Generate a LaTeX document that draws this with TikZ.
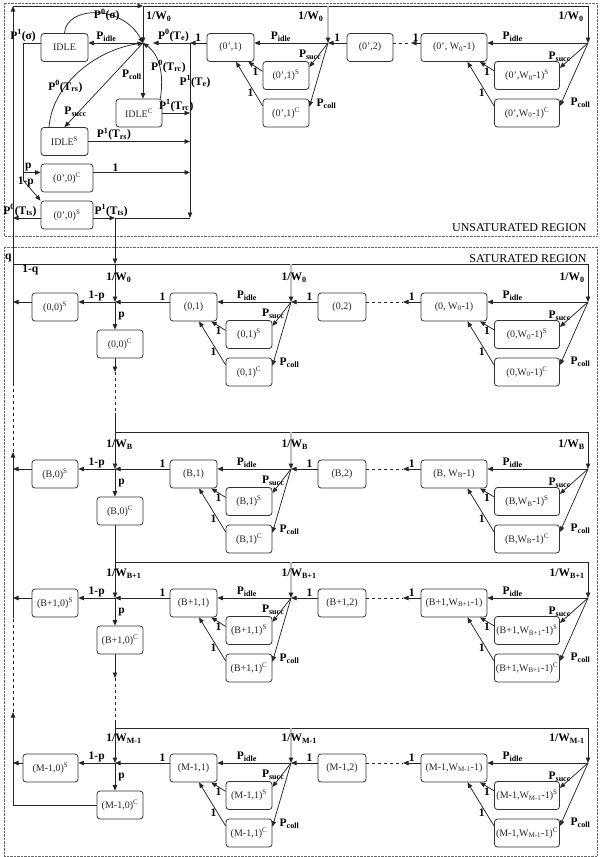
\documentclass[tikz,border=0pt]{standalone}
\usepackage{fontspec}
\setmainfont{Liberation Serif}
\usetikzlibrary{arrows.meta}
\newcommand{\Pidle}{P\textsubscript{idle}}
\newcommand{\Psucc}{P\textsubscript{succ}}
\newcommand{\Pcoll}{P\textsubscript{coll}}

\begin{document}
\begin{tikzpicture}[x=1pt, y=-1pt]
\useasboundingbox (0,0) rectangle (600,857);
% the two regions
\draw[densely dotted, black!60] (4,3) rectangle (597,236);
\draw[densely dotted, black!60] (4,247) rectangle (597,856);
\node (unsat) [anchor=east, font=\fontsize{12}{14}\selectfont] at (590,228) {UNSATURATED REGION};
\node (sat) [anchor=east, font=\fontsize{12}{14}\selectfont] at (590,259) {SATURATED REGION};

% junctions, unsaturated part
\coordinate (Lv) at (13,6);
\coordinate (Ut1) at (143,6);
\coordinate (Ut2) at (328,6);
\coordinate (Ut3) at (588,6);
\coordinate (Uh1) at (143,43);
\coordinate (Uh2) at (328,43);
\coordinate (Uh3) at (588,43);
\coordinate (Ud) at (411,43);
\coordinate (Uj) at (190,43);
\coordinate (Ub) at (190,218);
\coordinate (S0) at (115,218);
\coordinate (Sg) at (23,43);
\coordinate (Sp) at (23,172.5);
\coordinate (Sq) at (23,180);
% junctions, saturated part
\coordinate (Q) at (13,264);
\coordinate (Lw) at (13,385);
\coordinate (Lx) at (13,452);
\coordinate (Ly) at (13,618);
\coordinate (Lz) at (13,712);
\coordinate (At1) at (115,264); \coordinate (At2) at (291,264); \coordinate (At3) at (588,264);
\coordinate (Ah1) at (115,302); \coordinate (Ah2) at (291,302); \coordinate (Ah3) at (588,302);
\coordinate (Ad) at (403,302);  \coordinate (Ae) at (115,372);
\coordinate (Bf) at (115,413);
\coordinate (Bt1) at (115,432); \coordinate (Bt2) at (291,432); \coordinate (Bt3) at (588,432);
\coordinate (Bh1) at (115,469); \coordinate (Bh2) at (291,469); \coordinate (Bh3) at (588,469);
\coordinate (Bd) at (403,469);
\coordinate (Ct1) at (115,562); \coordinate (Ct2) at (291,562); \coordinate (Ct3) at (588,562);
\coordinate (Ch1) at (115,598); \coordinate (Ch2) at (291,598); \coordinate (Ch3) at (588,598);
\coordinate (Cd) at (403,598);  \coordinate (Ce) at (115,678);
\coordinate (Df) at (115,722);
\coordinate (Dt1) at (115,728); \coordinate (Dt2) at (291,728); \coordinate (Dt3) at (588,728);
\coordinate (Dh1) at (115,763); \coordinate (Dh2) at (291,763); \coordinate (Dh3) at (588,763);
\coordinate (Dd) at (403,763);

\begin{scope}[every node/.style={draw=black!80, line width=.8pt, rounded corners=3pt, minimum width=46pt,
    minimum height=28pt, inner sep=1pt, text=black!85, font=\fontsize{10}{12}\selectfont}]
  % unsaturated
  \node (I) at (64.5,47.5) [minimum width=47pt] {IDLE};
  \node (IC) at (139,113) {IDLE\textsuperscript{C}};
  \node (IS) at (64.5,141.5) [minimum width=47pt] {IDLE\textsuperscript{S}};
  \node (U0C) at (67,178) [minimum width=52pt] {(0',0)\textsuperscript{C}};
  \node (U0S) at (67,215) [minimum width=52pt] {(0',0)\textsuperscript{S}};
  \node (U1) at (230.5,47.5) [minimum width=47pt] {(0',1)};
  \node (U1S) at (286,75.5) {(0',1)\textsuperscript{S}};
  \node (U1C) at (286,113) {(0',1)\textsuperscript{C}};
  \node (U2) at (370,47.5) {(0',2)};
  \node (UW) at (454,47.5) [minimum width=66pt] {(0', W\textsubscript{0}-1)};
  \node (UWS) at (527,75.5) [minimum width=65pt] {(0',W\textsubscript{0}-1)\textsuperscript{S}};
  \node (UWC) at (527,113) [minimum width=65pt] {(0',W\textsubscript{0}-1)\textsuperscript{C}};
  % stage 0
  \node (A0S) at (55,307) {(0,0)\textsuperscript{S}};
  \node (A0C) at (120,344) {(0,0)\textsuperscript{C}};
  \node (A1) at (193.5,307) [minimum width=47pt] {(0,1)};
  \node (A1S) at (249,334.5) {(0,1)\textsuperscript{S}};
  \node (A1C) at (249,372) {(0,1)\textsuperscript{C}};
  \node (A2) at (342,307) [minimum width=48pt] {(0,2)};
  \node (AW) at (454,307) [minimum width=66pt] {(0, W\textsubscript{0}-1)};
  \node (AWS) at (527,334.5) [minimum width=65pt] {(0,W\textsubscript{0}-1)\textsuperscript{S}};
  \node (AWC) at (527,372) [minimum width=65pt] {(0,W\textsubscript{0}-1)\textsuperscript{C}};
  % stage B
  \node (B0S) at (55,474) {(B,0)\textsuperscript{S}};
  \node (B0C) at (120,511) {(B,0)\textsuperscript{C}};
  \node (B1) at (193.5,474) [minimum width=47pt] {(B,1)};
  \node (B1S) at (249,501.5) {(B,1)\textsuperscript{S}};
  \node (B1C) at (249,539) {(B,1)\textsuperscript{C}};
  \node (B2) at (342,474) [minimum width=48pt] {(B,2)};
  \node (BW) at (454,474) [minimum width=66pt] {(B, W\textsubscript{B}-1)};
  \node (BWS) at (527,501.5) [minimum width=65pt] {(B,W\textsubscript{B}-1)\textsuperscript{S}};
  \node (BWC) at (527,539) [minimum width=65pt] {(B,W\textsubscript{B}-1)\textsuperscript{C}};
  % stage B+1
  \node (C0S) at (55,603) {(B+1,0)\textsuperscript{S}};
  \node (C0C) at (120,640) {(B+1,0)\textsuperscript{C}};
  \node (C1) at (193.5,603) [minimum width=47pt] {(B+1,1)};
  \node (C1S) at (249,630.5) {(B+1,1)\textsuperscript{S}};
  \node (C1C) at (249,668) {(B+1,1)\textsuperscript{C}};
  \node (C2) at (342,603) [minimum width=48pt] {(B+1,2)};
  \node (CW) at (454,603) [minimum width=66pt] {(B+1,W\textsubscript{B+1}-1)};
  \node (CWS) at (527,630.5) [minimum width=65pt] {(B+1,W\textsubscript{B+1}-1)\textsuperscript{S}};
  \node (CWC) at (527,668) [minimum width=65pt] {(B+1,W\textsubscript{B+1}-1)\textsuperscript{C}};
  % stage M-1
  \node (D0S) at (50.5,768) [minimum width=55pt] {(M-1,0)\textsuperscript{S}};
  \node (D0C) at (120,805) {(M-1,0)\textsuperscript{C}};
  \node (D1) at (193.5,768) [minimum width=47pt] {(M-1,1)};
  \node (D1S) at (249,795.5) {(M-1,1)\textsuperscript{S}};
  \node (D1C) at (249,833) {(M-1,1)\textsuperscript{C}};
  \node (D2) at (342,768) [minimum width=48pt] {(M-1,2)};
  \node (DW) at (454,768) [minimum width=66pt] {(M-1,W\textsubscript{M-1}-1)};
  \node (DWS) at (527,795.5) [minimum width=65pt] {(M-1,W\textsubscript{M-1}-1)\textsuperscript{S}};
  \node (DWC) at (527,833) [minimum width=65pt] {(M-1,W\textsubscript{M-1}-1)\textsuperscript{C}};
\end{scope}

\begin{scope}[flow/.style={draw=black!85, line width=.75pt, -{Triangle[length=5.5pt,width=4.5pt]}},
    hubline/.style={draw=black!25, line width=1.3pt, -{Triangle[length=5.5pt,width=4.5pt,color=black!85]}},
    every edge/.style={flow},
    every node/.style={font=\bfseries\fontsize{11.5}{13}\selectfont, inner sep=1pt}]
  % unsaturated region
  \path (Lv) edge (Ut1);
  \path (Ut1) edge[-] (Ut3);
  \path (Ut1) edge node[pos=.3, anchor=west, xshift=2pt] {1/W\textsubscript{0}} (Uh1);
  \path (Ut2) edge[hubline] node[pos=.3, anchor=east, xshift=-3pt] {1/W\textsubscript{0}} (Uh2);
  \path (Ut3) edge node[pos=.3, anchor=east, xshift=-3pt] {1/W\textsubscript{0}} (Uh3);
  \path (Uh1) edge node[pos=.67, above] {\Pidle} (Uh1 -| I.east);
  \draw[flow] (I.north) .. controls (66,6) and (122,4) .. node[pos=.6] {P\textsuperscript{0}(σ)} (Uh1);
  \path (Uh1) edge node[pos=.57, left] {\Pcoll} (Uh1 |- IC.north);
  \draw[flow] (IC.34) .. controls (164,75) and (160,55) .. node[pos=.5, xshift=9pt] {P\textsuperscript{0}(T\textsubscript{rc})} (Uh1);
  \path (Uh1) edge node[pos=.82, xshift=-3pt] {\Psucc} (IS.north);
  \draw[flow] (IS.137) .. controls (52,85) and (95,50) .. node[pos=.35] {P\textsuperscript{0}(T\textsubscript{rs})} (Uh1);
  \path (Uj -| U1.west) edge node[above] {1} (Uj);
  \path (Uj) edge[shorten >=10pt] node[pos=.35, above] {P\textsuperscript{0}(T\textsubscript{e})} (Uh1);
  \path (Uj) edge node[pos=.22, xshift=5pt] {P\textsuperscript{1}(T\textsubscript{e})} (Ub);
  \path (IC.east) edge node[above] {P\textsuperscript{1}(T\textsubscript{rc})} (IC.east -| Uj);
  \path (IS.east) edge node[pos=.25, above] {P\textsuperscript{1}(T\textsubscript{rs})} (IS.east -| Uj);
  \path (U0C.12) edge node[pos=.23, above] {1} (U0C.12 -| Uj);
  \path (Ub) edge[-] (S0);
  \path (S0 -| U0S.east) edge node[above, xshift=7pt] {P\textsuperscript{1}(T\textsubscript{ts})} (S0);
  \path (S0 -| U0S.west) edge node[pos=.75, above] {P\textsuperscript{0}(T\textsubscript{ts})} (S0 -| Q);
  \path (Uh1 -| I.west) edge[-] node[pos=1, above] {P\textsuperscript{1}(σ)} (Sg);
  \path (Sg) edge[-] (Sq);
  \path (Sp) edge node[pos=.3, above] {p} (Sp -| U0C.west);
  \path (Sq) edge node[pos=.1, xshift=1pt] {1-p} (U0S.north west);
  \path (Uh2) edge node[pos=.64, above] {\Pidle} (Uh2 -| U1.east);
  \path (Uh2) edge node[left, xshift=4pt] {\Psucc} (U1S.20);
  \path (Uh2) edge node[pos=.95, right=5pt] {\Pcoll} (U1C.15);
  \path (U1S.170) edge node[below] {1} (U1.-39);
  \path (U1C.163) edge node[pos=.3, left] {1} (U1.-69);
  \path (Uh2 -| U2.west) edge node[above] {1} (Uh2);
  \path (Uh2 -| U2.east) edge[dashed, -] (Ud);
  \path (Uh3 -| UW.west) edge node[above] {1} (Ud);
  \path (Uh3) edge node[pos=.75, above] {\Pidle} (Uh3 -| UW.east);
  \path (Uh3) edge node[pos=.56, left] {\Psucc} (UWS.13);
  \path (Uh3) edge node[pos=.95, right=8pt] {\Pcoll} (UWC.12);
  \path (UWS.172) edge node[below] {1} (UW.-29);
  \path (UWC.168) edge node[pos=.3, left] {1} (UW.-47);

  % left return line
  \path (D0C.west) edge[-] (D0C.west -| Q);
  \path (D0C.west -| Q) edge (Lz);
  \path (Lz) edge[dashed, -] (Ly);
  \path (Ly) edge (Lx);
  \path (Lx) edge[dashed, -] (Lw);
  \path (Lw) edge node[pos=.32, anchor=south east] {q} (Lv);

  % stage 0
  \path (S0) edge (At1);
  \path (At1) edge node[pos=.37, anchor=west, xshift=-10pt] {1/W\textsubscript{0}} (Ah1);
  \path (Q) edge[-] node[pos=.03, below] {1-q} (At3);
  \path (At2) edge[hubline] node[pos=.37, anchor=west, xshift=-11pt] {1/W\textsubscript{0}} (Ah2);
  \path (At3) edge node[pos=.37, anchor=east, xshift=-2pt] {1/W\textsubscript{0}} (Ah3);
  \path (Ah1 -| A1.west) edge node[pos=.13, above] {1} (Ah1);
  \path (Ah1) edge node[above] {1-p} (Ah1 -| A0S.east);
  \path (Ah1 -| A0S.west) edge (Ah1 -| Q);
  \path (Ah1) edge node[right=2pt] {p} (Ah1 |- A0C.north);
  \path (Ah2) edge node[pos=.6, above] {\Pidle} (Ah2 -| A1.east);
  \path (Ah2) edge node[left, xshift=4pt] {\Psucc} (A1S.20);
  \path (Ah2) edge node[pos=.95, right=5pt] {\Pcoll} (A1C.15);
  \path (A1S.170) edge node[below] {1} (A1.-39);
  \path (A1C.163) edge node[pos=.3, left] {1} (A1.-69);
  \path (Ah2 -| A2.west) edge node[pos=.3, above] {1} (Ah2);
  \path (Ah2 -| A2.east) edge[dashed, -] (Ad);
  \path (Ah3 -| AW.west) edge node[above] {1} (Ad);
  \path (Ah3) edge node[pos=.75, above] {\Pidle} (Ah3 -| AW.east);
  \path (Ah3) edge node[pos=.56, left] {\Psucc} (AWS.13);
  \path (Ah3) edge node[pos=.95, right=8pt] {\Pcoll} (AWC.12);
  \path (AWS.172) edge node[below] {1} (AW.-29);
  \path (AWC.168) edge node[pos=.3, left] {1} (AW.-47);
  \path (Ah1 |- A0C.south) edge (Ae);
  \path (Ae) edge[dashed, -] (Bf);
  \path (Bf) edge[-] (Bt1);

  % stage B
  \path (Bt1) edge node[pos=.35, anchor=west, xshift=-10pt] {1/W\textsubscript{B}} (Bh1);
  \path (Bt1) edge[-] (Bt3);
  \path (Bt2) edge[hubline] node[pos=.35, anchor=west, xshift=-11pt] {1/W\textsubscript{B}} (Bh2);
  \path (Bt3) edge node[pos=.35, anchor=east, xshift=-2pt] {1/W\textsubscript{B}} (Bh3);
  \path (Bh1 -| B1.west) edge node[pos=.13, above] {1} (Bh1);
  \path (Bh1) edge node[above] {1-p} (Bh1 -| B0S.east);
  \path (Bh1 -| B0S.west) edge (Bh1 -| Q);
  \path (Bh1) edge node[right=2pt] {p} (Bh1 |- B0C.north);
  \path (Bh2) edge node[pos=.6, above] {\Pidle} (Bh2 -| B1.east);
  \path (Bh2) edge node[left, xshift=4pt] {\Psucc} (B1S.20);
  \path (Bh2) edge node[pos=.95, right=5pt] {\Pcoll} (B1C.15);
  \path (B1S.170) edge node[below] {1} (B1.-39);
  \path (B1C.163) edge node[pos=.3, left] {1} (B1.-69);
  \path (Bh2 -| B2.west) edge node[pos=.3, above] {1} (Bh2);
  \path (Bh2 -| B2.east) edge[dashed, -] (Bd);
  \path (Bh3 -| BW.west) edge node[above] {1} (Bd);
  \path (Bh3) edge node[pos=.75, above] {\Pidle} (Bh3 -| BW.east);
  \path (Bh3) edge node[pos=.56, left] {\Psucc} (BWS.13);
  \path (Bh3) edge node[pos=.95, right=8pt] {\Pcoll} (BWC.12);
  \path (BWS.172) edge node[below] {1} (BW.-29);
  \path (BWC.168) edge node[pos=.3, left] {1} (BW.-47);
  \path (Bh1 |- B0C.south) edge[-] (Ct1);

  % stage B+1
  \path (Ct1) edge node[pos=.33, anchor=west, xshift=-10pt] {1/W\textsubscript{B+1}} (Ch1);
  \path (Ct1) edge[-] (Ct3);
  \path (Ct2) edge[hubline] node[pos=.33, anchor=west, xshift=-11pt] {1/W\textsubscript{B+1}} (Ch2);
  \path (Ct3) edge node[pos=.33, anchor=east, xshift=-2pt] {1/W\textsubscript{B+1}} (Ch3);
  \path (Ch1 -| C1.west) edge node[pos=.13, above] {1} (Ch1);
  \path (Ch1) edge node[above] {1-p} (Ch1 -| C0S.east);
  \path (Ch1 -| C0S.west) edge (Ch1 -| Q);
  \path (Ch1) edge node[right=2pt] {p} (Ch1 |- C0C.north);
  \path (Ch2) edge node[pos=.6, above] {\Pidle} (Ch2 -| C1.east);
  \path (Ch2) edge node[left, xshift=4pt] {\Psucc} (C1S.20);
  \path (Ch2) edge node[pos=.95, right=5pt] {\Pcoll} (C1C.15);
  \path (C1S.170) edge node[below] {1} (C1.-39);
  \path (C1C.163) edge node[pos=.3, left] {1} (C1.-69);
  \path (Ch2 -| C2.west) edge node[pos=.3, above] {1} (Ch2);
  \path (Ch2 -| C2.east) edge[dashed, -] (Cd);
  \path (Ch3 -| CW.west) edge node[above] {1} (Cd);
  \path (Ch3) edge node[pos=.75, above] {\Pidle} (Ch3 -| CW.east);
  \path (Ch3) edge node[pos=.56, left] {\Psucc} (CWS.13);
  \path (Ch3) edge node[pos=.95, right=8pt] {\Pcoll} (CWC.12);
  \path (CWS.172) edge node[below] {1} (CW.-29);
  \path (CWC.168) edge node[pos=.3, left] {1} (CW.-47);
  \path (Ch1 |- C0C.south) edge (Ce);
  \path (Ce) edge[dashed, -] (Df);
  \path (Df) edge[-] (Dt1);

  % stage M-1
  \path (Dt1) edge node[pos=.31, anchor=west, xshift=-10pt] {1/W\textsubscript{M-1}} (Dh1);
  \path (Dt1) edge[-] (Dt3);
  \path (Dt2) edge[hubline] node[pos=.31, anchor=west, xshift=-11pt] {1/W\textsubscript{M-1}} (Dh2);
  \path (Dt3) edge node[pos=.31, anchor=east, xshift=-2pt] {1/W\textsubscript{M-1}} (Dh3);
  \path (Dh1 -| D1.west) edge node[pos=.13, above] {1} (Dh1);
  \path (Dh1) edge node[above] {1-p} (Dh1 -| D0S.east);
  \path (Dh1 -| D0S.west) edge (Dh1 -| Q);
  \path (Dh1) edge node[right=2pt] {p} (Dh1 |- D0C.north);
  \path (Dh2) edge node[pos=.6, above] {\Pidle} (Dh2 -| D1.east);
  \path (Dh2) edge node[left, xshift=4pt] {\Psucc} (D1S.20);
  \path (Dh2) edge node[pos=.95, right=5pt] {\Pcoll} (D1C.15);
  \path (D1S.170) edge node[below] {1} (D1.-39);
  \path (D1C.163) edge node[pos=.3, left] {1} (D1.-69);
  \path (Dh2 -| D2.west) edge node[pos=.3, above] {1} (Dh2);
  \path (Dh2 -| D2.east) edge[dashed, -] (Dd);
  \path (Dh3 -| DW.west) edge node[above] {1} (Dd);
  \path (Dh3) edge node[pos=.75, above] {\Pidle} (Dh3 -| DW.east);
  \path (Dh3) edge node[pos=.56, left] {\Psucc} (DWS.13);
  \path (Dh3) edge node[pos=.95, right=8pt] {\Pcoll} (DWC.12);
  \path (DWS.172) edge node[below] {1} (DW.-29);
  \path (DWC.168) edge node[pos=.3, left] {1} (DW.-47);
\end{scope}
\end{tikzpicture}
\end{document}
